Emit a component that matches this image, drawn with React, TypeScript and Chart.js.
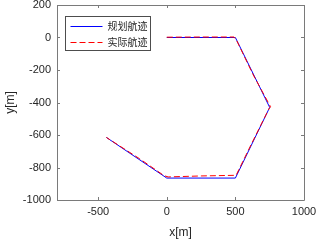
import React, { useEffect, useRef } from "react";
import { Chart, registerables } from "chart.js";

Chart.register(...registerables);

const seriesLabels = ["规划航迹", "实际航迹"];
const plannedX = [0, 500, 750, 500, 0, -440];
const plannedY = [0, 0, -430, -865, -865, -615];
const actualX = [0, 250, 490, 510, 630, 756, 744, 620, 505, 250, 10, -20, -200, -440];
const actualY = [2, 3, 3, -20, -230, -426, -440, -650, -848, -852, -858, -850, -745, -615];
const xTicks = [-500, 0, 500, 1000];
const yTicks = [-1000, -800, -600, -400, -200, 0, 200];
const xTitle = "x[m]";
const yTitle = "y[m]";

const AXIS_COLOR = "#7a7a7a";
const TEXT_COLOR = "#262626";
const TICK_FONT = { family: "'Liberation Sans', Arial, sans-serif", size: 11 };

const boxPlugin = {
  id: "matlabBox",
  afterDraw(chart: any) {
    const { ctx, chartArea } = chart;
    const { left, right, top, bottom } = chartArea;
    const xs = chart.scales.x;
    const ys = chart.scales.y;
    ctx.save();
    ctx.strokeStyle = AXIS_COLOR;
    ctx.lineWidth = 1;
    ctx.beginPath();
    ctx.rect(Math.round(left) + 0.5, Math.round(top) + 0.5, Math.round(right - left), Math.round(bottom - top));
    ctx.stroke();
    const tl = 3;
    ctx.beginPath();
    xTicks.forEach((v) => {
      const px = Math.round(xs.getPixelForValue(v)) + 0.5;
      ctx.moveTo(px, bottom);
      ctx.lineTo(px, bottom - tl);
      ctx.moveTo(px, top);
      ctx.lineTo(px, top + tl);
    });
    yTicks.forEach((v) => {
      const py = Math.round(ys.getPixelForValue(v)) + 0.5;
      ctx.moveTo(left, py);
      ctx.lineTo(left + tl, py);
      ctx.moveTo(right, py);
      ctx.lineTo(right - tl, py);
    });
    ctx.stroke();

    // legend
    const lx = Math.round(left) + 8.5;
    const ly = Math.round(top) + 11.5;
    const lw = 85;
    const lh = 34;
    ctx.fillStyle = "#ffffff";
    ctx.fillRect(lx, ly, lw, lh);
    ctx.strokeStyle = "#4d4d4d";
    ctx.strokeRect(lx, ly, lw, lh);
    const dsList = chart.data.datasets;
    ctx.font = "10px 'Noto Sans CJK SC', sans-serif";
    ctx.textBaseline = "middle";
    ctx.textAlign = "left";
    dsList.forEach((ds: any, i: number) => {
      const rowY = Math.round(ly + 9 + i * 16) + 0.5;
      ctx.strokeStyle = ds.borderColor;
      ctx.lineWidth = 1;
      ctx.setLineDash(ds.borderDash || []);
      ctx.beginPath();
      ctx.moveTo(lx + 5, rowY);
      ctx.lineTo(lx + 37, rowY);
      ctx.stroke();
      ctx.setLineDash([]);
      ctx.fillStyle = TEXT_COLOR;
      ctx.fillText(ds.label, lx + 42, rowY);
    });
    ctx.restore();
  },
};

export default function App() {
  const canvasRef = useRef<HTMLCanvasElement | null>(null);

  useEffect(() => {
    const canvas = canvasRef.current;
    if (!canvas) return;
    const planned = plannedX.map((x, i) => ({ x, y: plannedY[i] }));
    const actual = actualX.map((x, i) => ({ x, y: actualY[i] }));
    const chart = new Chart(canvas, {
      type: "scatter",
      data: {
        datasets: [
          {
            label: seriesLabels[0],
            data: planned,
            showLine: true,
            borderColor: "#0000ff",
            backgroundColor: "#0000ff",
            borderWidth: 1,
            pointRadius: 0,
            order: 1,
          },
          {
            label: seriesLabels[1],
            data: actual,
            showLine: true,
            borderColor: "#ff0000",
            backgroundColor: "#ff0000",
            borderWidth: 1,
            borderDash: [6, 3],
            pointRadius: 0,
            order: 0,
          },
        ],
      },
      options: {
        responsive: false,
        animation: false,
        layout: { padding: { top: 5, right: 14, left: 0, bottom: 0 } },
        plugins: {
          legend: { display: false },
          tooltip: { enabled: false },
        },
        scales: {
          x: {
            type: "linear",
            min: -800,
            max: 1000,
            grid: { display: false, drawTicks: false },
            border: { display: false },
            afterBuildTicks: (s: any) => {
              s.ticks = xTicks.map((v) => ({ value: v }));
            },
            afterFit: (s: any) => {
              s.height = 41;
              s.paddingLeft = 0;
              s.paddingRight = 0;
            },
            ticks: {
              color: TEXT_COLOR,
              font: TICK_FONT,
              padding: 5,
              maxRotation: 0,
              autoSkip: false,
              callback: (v: any) => String(v),
            },
            title: {
              display: true,
              text: xTitle,
              color: TEXT_COLOR,
              font: { family: "'Liberation Sans', Arial, sans-serif", size: 12 },
              padding: { top: 0, bottom: 1 },
            },
          },
          y: {
            type: "linear",
            min: -1000,
            max: 200,
            grid: { display: false, drawTicks: false },
            border: { display: false },
            afterBuildTicks: (s: any) => {
              s.ticks = yTicks.map((v) => ({ value: v }));
            },
            afterFit: (s: any) => {
              s.width = 57;
              s.paddingTop = 0;
              s.paddingBottom = 0;
            },
            ticks: {
              color: TEXT_COLOR,
              font: TICK_FONT,
              padding: 6,
              autoSkip: false,
              callback: (v: any) => String(v),
            },
            title: {
              display: true,
              text: yTitle,
              color: TEXT_COLOR,
              font: { family: "'Liberation Sans', Arial, sans-serif", size: 12 },
              padding: { top: 3, bottom: 0 },
            },
          },
        },
      } as any,
      plugins: [boxPlugin],
    });
    return () => chart.destroy();
  }, []);

  return (
    <div style={{ position: "fixed", left: 0, top: 0, width: 318, height: 241, background: "#fff" }}>
      <canvas ref={canvasRef} width={318} height={241} />
    </div>
  );
}
